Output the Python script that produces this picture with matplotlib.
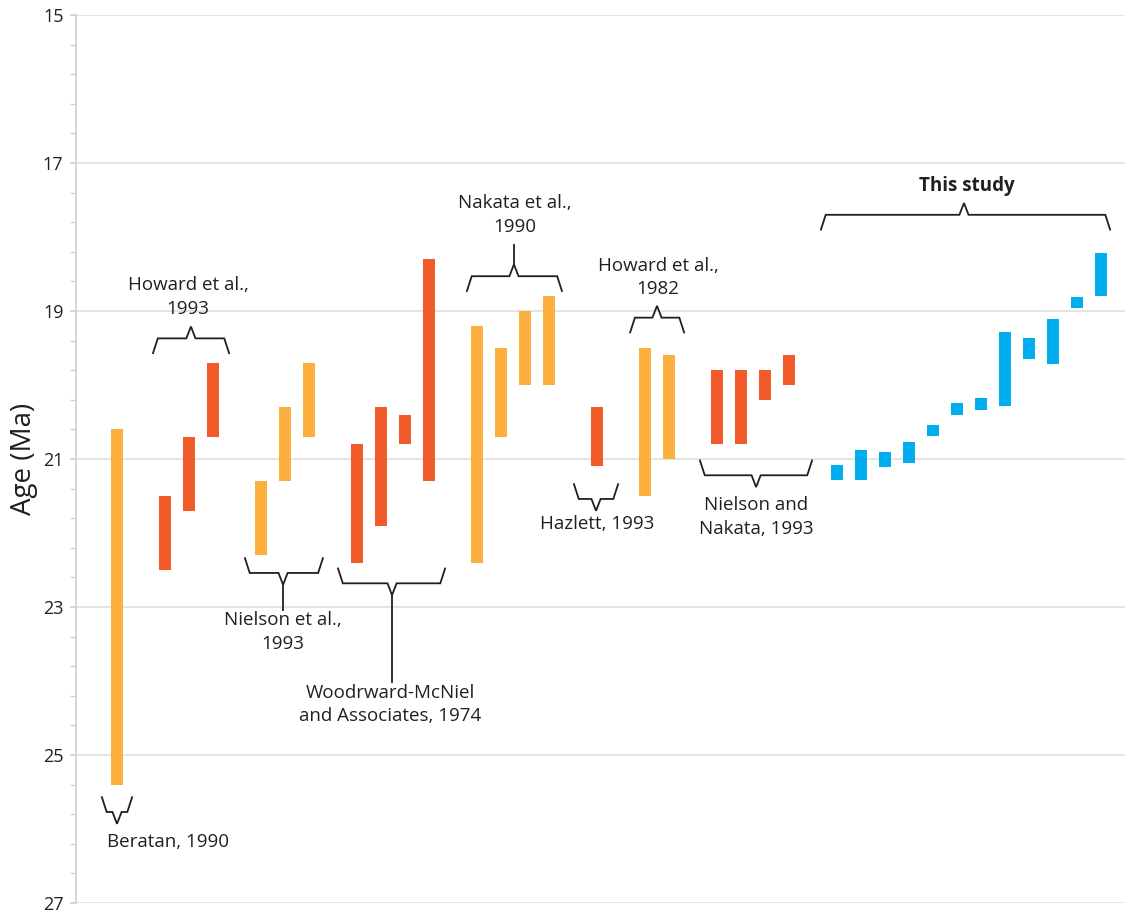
import matplotlib
matplotlib.use("Agg")
import matplotlib.pyplot as plt
import numpy as np

plt.rcParams["font.family"] = ["Open Sans", "DejaVu Sans"]

INK = "#231f20"
PALETTE = {"o": "#fbb040", "r": "#f15a29", "b": "#00aeef"}

# one entry per dated sample, left to right; ages in Ma
slot = [0, 2, 3, 4, 6, 7, 8, 10, 11, 12, 13, 15, 16, 17, 18, 20, 22, 23,
        25, 26, 27, 28, 30, 31, 32, 33, 34, 35, 36, 37, 38, 39, 40, 41]
age_young = [20.6, 21.5, 20.7, 19.7, 21.3, 20.3, 19.7, 20.8, 20.3, 20.4, 18.3,
             19.2, 19.5, 19.0, 18.8, 20.3, 19.5, 19.6, 19.8, 19.8, 19.8, 19.6,
             21.08, 20.88, 20.9, 20.77, 20.54, 20.25, 20.17, 19.28, 19.36,
             19.11, 18.81, 18.21]
age_old = [25.4, 22.5, 21.7, 20.7, 22.3, 21.3, 20.7, 22.4, 21.9, 20.8, 21.3,
           22.4, 20.7, 20.0, 20.0, 21.1, 21.5, 21.0, 20.8, 20.8, 20.2, 20.0,
           21.28, 21.28, 21.11, 21.06, 20.69, 20.41, 20.34, 20.28, 19.65,
           19.71, 18.96, 18.8]
kind = ["o", "r", "r", "r", "o", "o", "o", "r", "r", "r", "r",
        "o", "o", "o", "o", "r", "o", "o", "r", "r", "r", "r"] + ["b"] * 12

# source brackets: x0, x1, x tip, y of bracket bar, tip direction, stem length
brackets = [
    (1.50, 4.67, 3.08, 19.37, -1, 0.0),
    (5.33, 8.58, 6.92, 22.54, 1, 0.34),
    (9.21, 13.67, 11.46, 22.68, 1, 1.18),
    (14.58, 18.54, 16.54, 18.53, -1, 0.26),
    (19.04, 20.88, 19.96, 21.54, 1, 0.0),
    (21.38, 23.63, 22.50, 19.09, -1, 0.0),
    (24.29, 28.96, 26.63, 21.22, 1, 0.0),
    (29.33, 41.38, 35.29, 17.70, -1, 0.0),
    (-0.63, 0.63, 0.0, 25.77, 1, 0.0),
]
labels = [
    ("Howard et al.,\n1993", 2.96, 18.81, "normal"),
    ("Nielson et al.,\n1993", 6.92, 23.34, "normal"),
    ("Woodrward-McNiel\nand Associates, 1974", 11.38, 24.32, "normal"),
    ("Nakata et al.,\n1990", 16.58, 17.70, "normal"),
    ("Howard et al.,\n1982", 22.54, 18.55, "normal"),
    ("Hazlett, 1993", 20.0, 21.88, "normal"),
    ("Nielson and\nNakata, 1993", 26.63, 21.78, "normal"),
    ("This study", 35.42, 17.31, "bold"),
    ("Beratan, 1990", 2.13, 26.18, "normal"),
]

major_ticks = [15, 17, 19, 21, 23, 25, 27]


def draw_bracket(ax, x0, x1, xt, yb, sign, stem, end=0.2, tip=0.16,
                 slant=0.2, hw=0.19):
    xs = [x0, x0 + slant, xt - hw, xt, xt + hw, x1 - slant, x1]
    ys = [yb - sign * end, yb, yb, yb + sign * tip, yb, yb, yb - sign * end]
    ax.plot(xs, ys, color=INK, lw=1.3, solid_joinstyle="miter", zorder=3)
    if stem:
        ax.plot([xt, xt], [yb + sign * tip, yb + sign * (tip + stem)],
                color=INK, lw=1.3, zorder=3)


fig = plt.figure(figsize=(11.25, 9.16), dpi=100)
ax = fig.add_axes([76 / 1125, 1 - 903 / 916, 1049 / 1125, 888 / 916])

heights = [o - y for y, o in zip(age_young, age_old)]
ax.bar(slot, heights, bottom=age_young, width=0.46,
       color=[PALETTE[k] for k in kind], zorder=2)

for b in brackets:
    draw_bracket(ax, *b)
for text, x, y, weight in labels:
    ax.text(x, y, text, ha="center", va="center", fontsize=13.5,
            fontweight=weight, color=INK, linespacing=1.4, zorder=4)

ax.set_xlim(-41 / 24, 42.0)
ax.set_ylim(27, 15)
ax.set_yticks(major_ticks)
ax.set_yticks(np.arange(15, 27.01, 0.4), minor=True)
ax.grid(axis="y", which="major", color="#e2e2e2", lw=1.3, zorder=0)
for side in ("top", "right", "bottom"):
    ax.spines[side].set_visible(False)
ax.spines["left"].set_color("#cfcfcf")
ax.spines["left"].set_linewidth(1.2)
ax.set_xticks([])
ax.tick_params(axis="y", which="both", color="#cfcfcf", direction="out",
               labelsize=13, labelcolor=INK)
ax.tick_params(axis="y", which="major", length=4, width=1.2, pad=5)
ax.tick_params(axis="y", which="minor", length=4, width=1.0)
ax.set_ylabel("Age (Ma)", fontsize=20, color=INK)
ax.yaxis.set_label_coords(-38 / 1049, 0.5)

fig.savefig("out.png", dpi=100)
